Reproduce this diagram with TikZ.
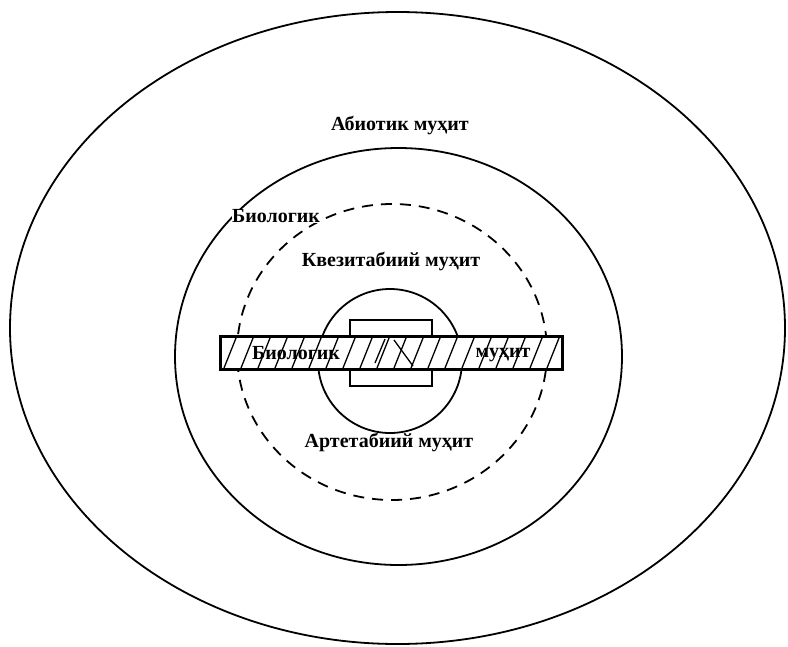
\documentclass[tikz,border=0pt]{standalone}
\usepackage{fontspec}
\setmainfont{Liberation Serif}
\usetikzlibrary{calc}
\tikzset{
  ring/.style={draw=black, line width=1.8pt},
  dashring/.style={draw=black, line width=1.8pt, dash pattern=on 11pt off 8pt},
  lbl/.style={font=\fontsize{20}{22}\selectfont\bfseries, inner sep=1pt},
  hatch/.style={draw=black, line width=1.3pt},
}
\begin{document}
\begin{tikzpicture}[x=1pt,y=-1pt]
\useasboundingbox (0,0) rectangle (788,646);
\fill[white] (0,0) rectangle (788,646);
% rings
\draw[ring] (397.5,328) ellipse [x radius=387.5, y radius=316];
\draw[ring] (398.5,356.5) ellipse [x radius=223.5, y radius=208.5];
\draw[dashring] (392,352) ellipse [x radius=155, y radius=148];
\draw[ring] (390,361) circle [radius=72];
% square
\node[draw=black, line width=1.5pt, minimum width=82pt, minimum height=66pt, inner sep=0pt, fill=white] (sq) at (391,353) {};
% bar
\node[draw=black, line width=1.8pt, minimum width=341pt, minimum height=32pt, inner sep=0pt, fill=white] (bar) at (391.5,353) {};
% labels
\node[lbl] (abio) at (400,125) {Абиотик муҳит};
\node[lbl, fill=white, inner sep=0pt] (bio1) at (276,216) {Биологик};
\node[lbl] (kvaz) at (391,261) {Квезитабиий муҳит};
\node[lbl] (art) at (389,442) {Артетабиий муҳит};
\node[lbl] (bio2) at (296,353) {Биологик};
\node[lbl] (muh) at (503,355) {муҳит};
% hatching
\begin{scope}
\clip (bar.south west) rectangle (bar.north east);
\foreach \x in {224,241,...,560} {
  \draw[hatch] (\x,368) -- (\x+12,338);
}
\draw[hatch] (375,363) -- (385,339);
\draw[hatch] (394,340) -- (413,366);
\end{scope}
\draw[line width=1.8pt] (bar.south west) rectangle (bar.north east);
\end{tikzpicture}
\end{document}
